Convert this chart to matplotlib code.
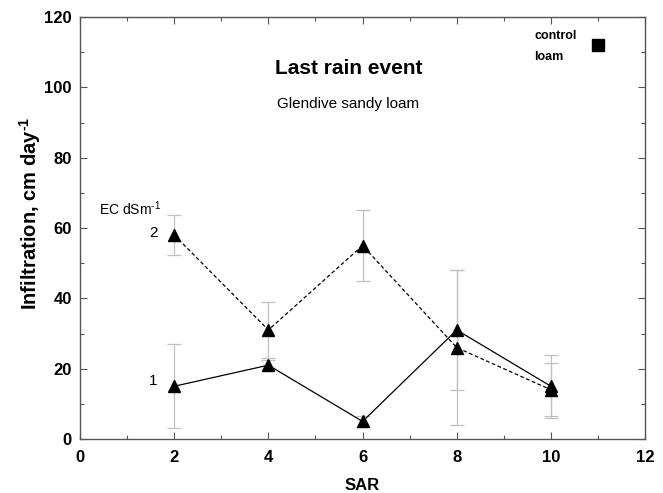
import numpy as np
import matplotlib.pyplot as plt
from matplotlib.ticker import MultipleLocator

plt.rcParams['font.family'] = ['Liberation Sans', 'DejaVu Sans']
plt.rcParams['mathtext.fontset'] = 'custom'
plt.rcParams['mathtext.rm'] = 'Liberation Sans'
plt.rcParams['mathtext.bf'] = 'Liberation Sans:bold'

# data
sar = [2, 4, 6, 8, 10]
ec1 = [15, 21, 5, 31, 15]          # EC 1 dS/m, solid line
ec1_err = [12, 1.5, 1.5, 17, 9]
ec2 = [58, 31, 55, 26, 14]         # EC 2 dS/m, dashed line
ec2_err = [5.7, 8, 10, 22, 7.5]
control_x = [11]
control_y = [112]

fig = plt.figure(figsize=(6.63, 4.93), dpi=100)
ax = fig.add_axes([0.1207, 0.1095, 0.8523, 0.856])

err_kw = dict(ecolor='#c0c0c0', elinewidth=0.9, capsize=5, capthick=0.9)
ax.errorbar(sar, ec1, yerr=ec1_err, fmt='none', **err_kw)
ax.errorbar(sar, ec2, yerr=ec2_err, fmt='none', **err_kw)
ax.plot(sar, ec1, color='black', lw=0.9, ls='-', marker='^', ms=9)
ax.plot(sar, ec2, color='black', lw=0.9, ls=(0, (3, 2)), marker='^', ms=9)
ax.plot(control_x, control_y, 's', color='black', ms=8)

ax.set_xlim(0, 12)
ax.set_ylim(0, 120)
ax.xaxis.set_major_locator(MultipleLocator(2))
ax.xaxis.set_minor_locator(MultipleLocator(1))
ax.yaxis.set_major_locator(MultipleLocator(20))
ax.yaxis.set_minor_locator(MultipleLocator(10))
ax.tick_params(which='both', direction='in', top=True, right=True, width=0.8, color='#555555')
ax.tick_params(which='major', length=5, labelsize=12)
ax.tick_params(axis='y', which='major', pad=6)
ax.tick_params(axis='x', which='major', pad=8)
ax.tick_params(which='minor', length=3)
for lbl in ax.get_xticklabels() + ax.get_yticklabels():
    lbl.set_fontweight('bold')
for s in ax.spines.values():
    s.set_color('#555555')
    s.set_linewidth(1.0)

ax.set_xlabel('SAR', fontsize=12, fontweight='bold', labelpad=9)
ax.set_ylabel('Infiltration, cm day$^{\\mathbf{\u20101}}$', fontsize=14.5, fontweight='bold')
ax.yaxis.set_label_coords(-0.066, 0.535)

ax.text(5.7, 105.5, 'Last rain event', fontsize=15, fontweight='bold', ha='center', va='center')
ax.text(5.7, 95.3, 'Glendive sandy loam', fontsize=11, ha='center', va='center')
ax.text(0.4, 65.5, 'EC dSm$^{\\mathrm{\u20101}}$', fontsize=10, ha='left', va='center')
ax.text(1.55, 58.6, '2', fontsize=11, ha='center', va='center')
ax.text(1.55, 16.5, '1', fontsize=11, ha='center', va='center')
ax.text(9.65, 114.5, 'control', fontsize=9, fontweight='bold', ha='left', va='center')
ax.text(9.65, 108.5, 'loam', fontsize=9, fontweight='bold', ha='left', va='center')

fig.savefig('out.png', dpi=100)
